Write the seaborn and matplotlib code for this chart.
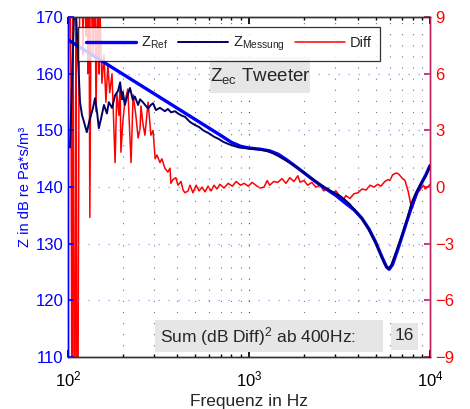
import numpy as np
import pandas as pd
import matplotlib
matplotlib.use("Agg")
import matplotlib.pyplot as plt
import seaborn as sns
from matplotlib.patches import Rectangle
from matplotlib.ticker import LogLocator, FixedLocator, NullFormatter

# Z_Ref (blue)
ref_f = [100, 700, 800, 900, 1000, 1150, 1300, 1450, 1600, 1800, 2000, 2300, 2600, 3000,
         3400, 3800, 4200, 4600, 5000, 5400, 5750, 5950, 6200, 6600, 7000, 7500, 8000,
         8500, 9000, 9500, 10000]
ref_z = [166.0, 149.1, 147.9, 147.2, 146.9, 146.7, 146.4, 145.8, 144.9, 143.7, 142.6, 141.1,
         139.9, 138.6, 137.2, 136.0, 134.5, 132.6, 130.3, 127.8, 125.9, 125.5, 126.3, 128.8,
         131.3, 134.3, 137.0, 139.2, 140.8, 142.2, 143.8]

# Z_Messung (navy)
mess_f = [102.6, 105, 108, 110.7, 113.5, 116.5, 119.5, 122.6, 127, 132, 137.5, 141, 145, 148,
          152, 158, 164, 168, 175, 182, 189, 194, 199, 201, 206, 212, 220, 228, 234, 244,
          250, 259, 270, 277, 287, 295, 306, 322, 343, 356, 371, 390, 405, 426, 443, 472,
          500, 530, 560, 600, 640, 680, 720, 770, 820, 880, 940, 1000, 1080, 1160, 1250,
          1350, 1450, 1560, 1680, 1800, 1950, 2100, 2250, 2400, 2600, 2800, 3000, 3200,
          3400, 3600, 3800, 4000, 4300, 4600, 5000, 5300, 5600, 5850, 6100, 6500, 7000,
          7500, 7900, 8300, 8800, 9400, 10000]
mess_z = [147.0, 158.0, 170.5, 171.0, 163.0, 155.0, 152.7, 151.5, 149.7, 152.0, 154.0, 155.7,
          153.0, 150.4, 152.0, 154.5, 153.0, 155.0, 154.0, 156.2, 157.0, 158.5, 155.5, 156.8,
          154.5, 156.0, 157.5, 155.4, 156.0, 154.5, 155.5, 155.0, 154.3, 153.9, 154.5, 154.8,
          153.6, 154.0, 153.4, 153.8, 153.2, 153.4, 153.0, 152.6, 152.4, 151.5,
          151.0, 150.6, 150.0, 149.5, 148.9, 148.5, 148.0, 147.6, 147.3, 147.0, 146.9, 146.8,
          146.7, 146.6, 146.4, 146.0, 145.5, 144.9, 144.3, 143.7, 142.9, 142.1, 141.4, 140.7,
          140.0, 139.4, 138.9, 138.4, 137.7, 137.0, 136.1, 135.3, 134.0, 132.4, 130.2, 128.3,
          126.5, 125.6, 126.2, 128.6, 131.5, 134.5, 137.2, 138.8, 140.3, 141.8, 143.8]

# Diff = Referenz - Messung (red, right axis)
diff_f = [100, 101.3, 102.6, 103.9, 105, 106.6, 108, 109.3, 110.7, 112, 113.5, 115, 116.5,
          119.5, 121, 122.6, 125.8, 127.3, 129, 130.6, 132, 134, 135.7, 137.5, 141, 142.8,
          146.5, 148, 150, 154, 158, 162, 166, 170, 175, 182, 186, 191, 194, 196, 201, 206,
          214, 223, 229, 237, 244, 250, 253, 259, 266, 277, 287, 295, 303, 310, 322, 330,
          343, 356, 366, 370, 380, 394, 405, 421, 432, 443, 460, 472, 490, 510, 530, 550,
          571, 594, 617, 641, 665, 690, 727, 766, 808, 850, 896, 940, 990, 1040, 1090, 1150,
          1210, 1260, 1300, 1370, 1440, 1520, 1600, 1680, 1770, 1860, 1915, 2010, 2110, 2220,
          2340, 2470, 2590, 2730, 2870, 3020, 3180, 3300, 3430, 3610, 3800, 4000, 4210, 4440,
          4660, 4900, 5150, 5350, 5630, 5850, 6000, 6210, 6500, 6700, 6980, 7270, 7560, 7860,
          8000, 8300, 8500, 8800, 9200, 9400, 9800, 10000]
diff_v = [3.0, 10.0, 12.0, 5.0, -12.0, 12.0, -12.0, -12.0, 11.0, -12.0, -12.0, 6.0, 11.0,
          12.0, 7.0, 12.0, 8.0, 12.0, 6.0, 11.0, -1.6, 9.0, 12.0, 7.0, 11.0, 4.0,
          12.0, 6.0, 9.5, 5.5, 7.0, 4.5, 6.5, 5.0, 6.0, 1.3, 5.0, 3.8, 5.5, 1.85, 3.5, 4.5,
          5.2, 1.3, 4.9, 3.8, 2.6, 3.1, 4.3, 3.4, 2.75, 4.5, 2.75, 3.0, 1.5, 1.7, 1.3, 1.5,
          1.0, 0.8, 1.0, 0.2, 0.4, 0.5, 0.1, 0.3, -0.15, -0.3, -0.2, 0.1, -0.3, 0.1, -0.2, 0.0,
          -0.25, 0.05, -0.2, 0.1, -0.1, 0.15, -0.05, 0.2, 0.05, 0.3, 0.1, 0.2, 0.05, 0.25, 0.1,
          -0.05, 0.0, 0.35, 0.1, 0.3, 0.25, 0.45, 0.2, 0.5, 0.3, 0.6, 0.26, 0.35, 0.1, 0.25,
          0.0, 0.1, -0.2, -0.05, -0.35, -0.2, -0.5, -0.7, -0.45, -0.6, -0.35, -0.3, -0.1, -0.15,
          0.1, 0.0, 0.15, 0.05, 0.3, 0.4, 0.35, 0.65, 0.75, 0.7, 0.5, 0.35, -0.2, -1.0,
          -1.1, -0.6, -0.3, -0.15, 0.1, -0.1, 0.05, 0.15]

left_ticks = [110, 120, 130, 140, 150, 160, 170]
right_ticks = [-9, -6, -3, 0, 3, 6, 9]
right_labels = ["\u22129", "\u22126", "\u22123", "0", "3", "6", "9"]
sum_value = "16"

sns.set_theme(style="white")
plt.rcParams['font.family'] = ['Liberation Sans', 'DejaVu Sans']
plt.rcParams['mathtext.fontset'] = 'custom'
plt.rcParams['mathtext.rm'] = 'Liberation Sans'
plt.rcParams['mathtext.it'] = 'Liberation Sans'

fig = plt.figure(figsize=(4.7, 4.09), dpi=100)
ax = fig.add_axes([0.1447, 0.127, 0.7703, 0.831])
ax2 = ax.twinx()

# red on the right axis, drawn beneath the Z curves
sns.lineplot(x=diff_f, y=diff_v, ax=ax2, color="#ff0000", linewidth=1.1, label="Diff",
             legend=False, sort=False, estimator=None)
sns.lineplot(x=ref_f, y=ref_z, ax=ax, color="#0000ff", linewidth=2.4, label="Z$_{\\mathrm{Ref}}$",
             legend=False, sort=False, estimator=None)
sns.lineplot(x=mess_f, y=mess_z, ax=ax, color="#000066", linewidth=1.4,
             label="Z$_{\\mathrm{Messung}}$", legend=False, sort=False, estimator=None)
ax.set_zorder(ax2.get_zorder() + 1)
ax.patch.set_visible(False)

for a in (ax, ax2):
    a.set_xscale("log")
    a.set_xlim(100, 10000)
ax.set_ylim(110, 170)
ax2.set_ylim(-9, 9)
ax.yaxis.set_major_locator(FixedLocator(left_ticks))
ax2.yaxis.set_major_locator(FixedLocator(right_ticks))
ax2.set_yticklabels(right_labels)
ax.xaxis.set_major_locator(LogLocator(base=10))
ax.xaxis.set_minor_locator(LogLocator(base=10, subs=np.arange(2, 10)))
ax.xaxis.set_minor_formatter(NullFormatter())

# dotted grid, MATLAB style
ax.grid(False)
ax2.grid(False)
for f in [100 * s for s in range(2, 10)] + [1000 * s for s in range(2, 10)]:
    ax.axvline(f, color="#777777", linestyle=(0, (1, 9)), linewidth=0.8, zorder=0)
ax.axvline(1000, color="#444444", linestyle=(0, (1, 9)), linewidth=0.8, zorder=0)
for yv in left_ticks[1:-1]:
    ax.axhline(yv, color="#9090ff", linestyle=(0, (1, 7)), linewidth=0.9, zorder=0)

# spines / ticks
ax.spines["left"].set_color("#0000ff")
ax2.spines["left"].set_color("#0000ff")
ax2.spines["right"].set_color("#c8205a")
ax.spines["right"].set_color("#c8205a")
for a in (ax, ax2):
    a.spines["bottom"].set_color("#333333")
    a.spines["top"].set_color("#333333")
    for s in a.spines.values():
        s.set_linewidth(1.0)
ax.tick_params(axis="y", colors="#0000ff", labelsize=12, direction="in", length=4, left=True)
ax2.tick_params(axis="y", colors="#ff0000", labelsize=12, direction="in", length=4, right=True)
ax2.tick_params(axis="y", which="major", color="#c8205a")
ax.tick_params(axis="x", which="both", direction="in", top=True, bottom=True, labelsize=12,
               colors="black", pad=9)
ax.tick_params(axis="x", which="major", length=5)
ax.tick_params(axis="x", which="minor", length=2.5)
ax2.tick_params(axis="x", which="both", bottom=False, top=False)

ax.set_xlabel("Frequenz in Hz", fontsize=12.5, labelpad=3)
ax.set_ylabel("Z in dB re Pa*s/m³", fontsize=10.5, color="#0000ff", labelpad=2)
ax2.set_ylabel("Referenz \u2212 Messung", fontsize=11, color="#ff0000")
ax2.yaxis.set_label_coords(1.13, 0.5)

# legend
h1, l1 = ax.get_legend_handles_labels()
h2, l2 = ax2.get_legend_handles_labels()
leg = ax.legend(h1 + h2, l1 + l2, ncol=3, loc="upper left", bbox_to_anchor=(0.028, 0.972),
                frameon=True, fancybox=False, edgecolor="black", fontsize=10.5,
                handlelength=3.4, columnspacing=0.7, borderpad=0.55, handletextpad=0.35,
                borderaxespad=0)
leg.get_frame().set_linewidth(0.9)

# grey annotation boxes
ax.add_patch(Rectangle((0.392, 0.776), 0.277, 0.106, transform=ax.transAxes,
                       facecolor="#e6e6e6", edgecolor="none", zorder=3))
ax.text(0.53, 0.827, "Z$_{\\mathrm{ec}}$ Tweeter", transform=ax.transAxes, fontsize=13.5,
        ha="center", va="center", zorder=4)
ax.add_patch(Rectangle((0.240, 0.0147), 0.630, 0.094, transform=ax.transAxes,
                       facecolor="#e6e6e6", edgecolor="none", zorder=3))
ax.text(0.254, 0.060, "Sum (dB Diff)$^2$ ab 400Hz:", transform=ax.transAxes, fontsize=12.5,
        ha="left", va="center", zorder=4)
ax.add_patch(Rectangle((0.892, 0.0206), 0.075, 0.079, transform=ax.transAxes,
                       facecolor="#e6e6e6", edgecolor="none", zorder=3))
ax.text(0.9295, 0.062, sum_value, transform=ax.transAxes, fontsize=12.5,
        ha="center", va="center", zorder=4)

fig.savefig("out.png", dpi=100)
